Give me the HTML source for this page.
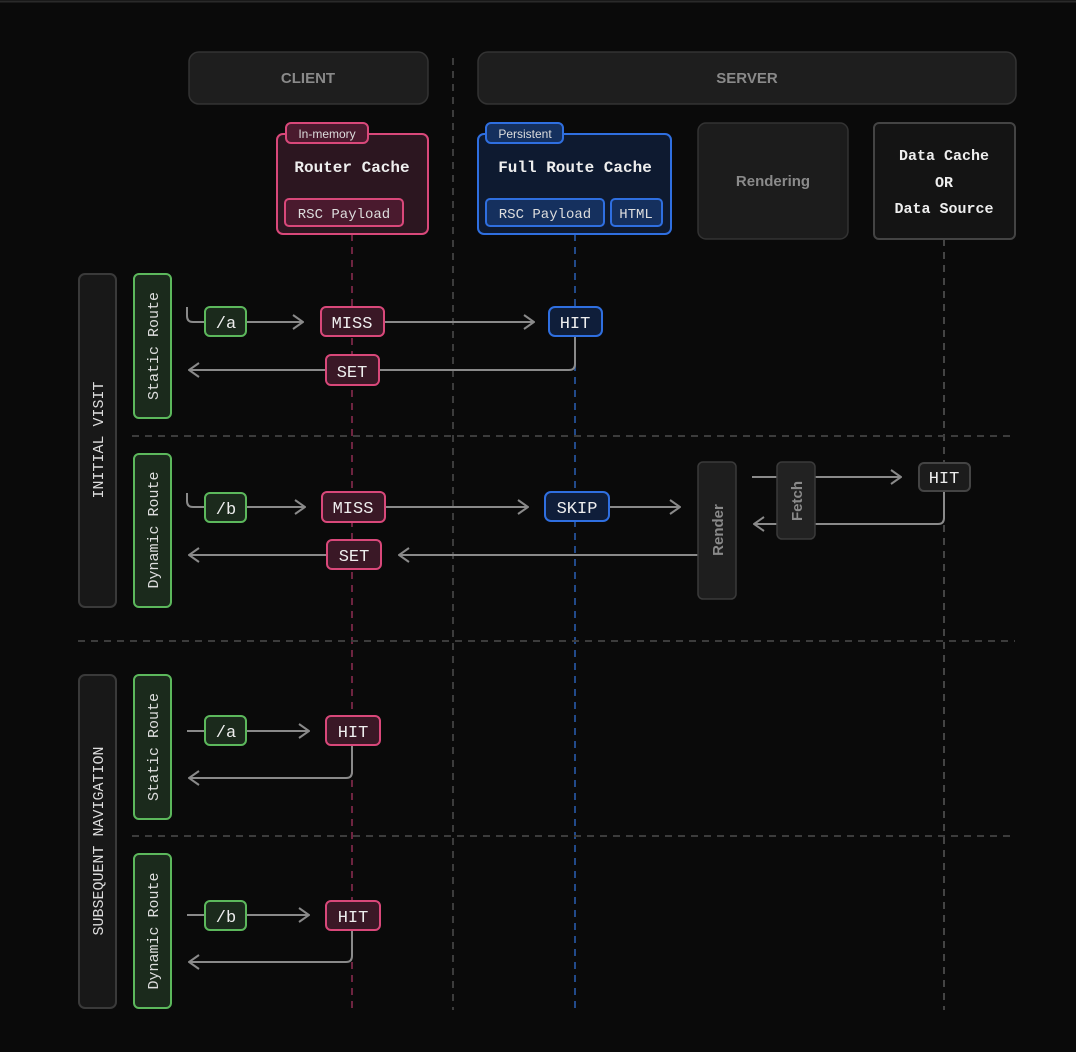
<!DOCTYPE html>
<html><head><meta charset="utf-8"><style>
html,body{margin:0;padding:0;background:#0a0a0a;}
svg{display:block}
.m{font-family:"Liberation Mono","DejaVu Sans Mono",monospace;font-weight:bold;}
.s{font-family:"Liberation Sans",sans-serif;font-weight:bold;}
</style></head><body>
<svg width="1076" height="1052" viewBox="0 0 1076 1052" xmlns="http://www.w3.org/2000/svg">
<defs>
<marker id="ah" viewBox="0 0 12 16" refX="11" refY="8" markerWidth="12" markerHeight="16" markerUnits="userSpaceOnUse" orient="auto">
<path d="M1 1 L11 8 L1 15" fill="none" stroke="#8a8a8a" stroke-width="2"/>
</marker>
</defs>
<rect width="1076" height="1052" fill="#0a0a0a"/>
<line x1="0" y1="1.5" x2="1076" y2="1.5" stroke="#2a2a2a" stroke-width="2"/>

<!-- dashed lines -->
<g stroke-dasharray="7 6" stroke-width="2">
<line x1="453" y1="58" x2="453" y2="1010" stroke="#3c3c3c"/>
<line x1="352" y1="234" x2="352" y2="1010" stroke="#6e2440"/>
<line x1="575" y1="234" x2="575" y2="1010" stroke="#224a8a"/>
<line x1="944" y1="239" x2="944" y2="1010" stroke="#444"/>
<line x1="132" y1="436" x2="1015" y2="436" stroke="#3c3c3c"/>
<line x1="78" y1="641" x2="1015" y2="641" stroke="#3c3c3c"/>
<line x1="132" y1="836" x2="1015" y2="836" stroke="#3c3c3c"/>
</g>

<!-- headers -->
<rect x="189" y="52" width="239" height="52" rx="10" fill="#1e1e1e" stroke="#333" stroke-width="1.5"/>
<text x="308" y="83" class="s" font-size="15" fill="#8a8a8a" text-anchor="middle">CLIENT</text>
<rect x="478" y="52" width="538" height="52" rx="10" fill="#1e1e1e" stroke="#333" stroke-width="1.5"/>
<text x="747" y="83" class="s" font-size="15" fill="#8a8a8a" text-anchor="middle">SERVER</text>

<!-- Router cache -->
<rect x="277" y="134" width="151" height="100" rx="6" fill="#2c1620" stroke="#d9487a" stroke-width="2"/>
<rect x="286" y="123" width="82" height="20" rx="5" fill="#4a1a2e" stroke="#d9487a" stroke-width="2"/>
<text x="327" y="138" font-family="Liberation Sans,sans-serif" font-size="12" fill="#ddd" text-anchor="middle">In-memory</text>
<text x="352" y="172" class="m" font-size="16" fill="#eee" text-anchor="middle">Router Cache</text>
<rect x="285" y="199" width="118" height="27" rx="4" fill="#4a1a2e" stroke="#d9487a" stroke-width="2"/>
<text x="344" y="218" class="m" font-size="14" font-weight="normal" fill="#ddd" text-anchor="middle" style="font-weight:normal">RSC Payload</text>

<!-- Full route cache -->
<rect x="478" y="134" width="193" height="100" rx="6" fill="#0e1a30" stroke="#2f6fe0" stroke-width="2"/>
<rect x="486" y="123" width="77" height="20" rx="5" fill="#15305e" stroke="#2f6fe0" stroke-width="2"/>
<text x="525" y="138" font-family="Liberation Sans,sans-serif" font-size="12" fill="#ddd" text-anchor="middle">Persistent</text>
<text x="575" y="172" class="m" font-size="16" fill="#eee" text-anchor="middle">Full Route Cache</text>
<rect x="486" y="199" width="118" height="27" rx="4" fill="#15305e" stroke="#2f6fe0" stroke-width="2"/>
<text x="545" y="218" class="m" font-size="14" fill="#ddd" text-anchor="middle" style="font-weight:normal">RSC Payload</text>
<rect x="611" y="199" width="51" height="27" rx="4" fill="#15305e" stroke="#2f6fe0" stroke-width="2"/>
<text x="636" y="218" class="m" font-size="14" fill="#ddd" text-anchor="middle" style="font-weight:normal">HTML</text>

<!-- Rendering -->
<rect x="698" y="123" width="150" height="116" rx="8" fill="#1c1c1c" stroke="#333" stroke-width="1.5"/>
<text x="773" y="186" class="s" font-size="15" fill="#8a8a8a" text-anchor="middle">Rendering</text>
<!-- Data cache -->
<rect x="874" y="123" width="141" height="116" rx="5" fill="#141414" stroke="#444" stroke-width="2"/>
<text x="944" y="160" class="m" font-size="15" fill="#eee" text-anchor="middle">Data Cache</text>
<text x="944" y="187" class="m" font-size="15" fill="#eee" text-anchor="middle">OR</text>
<text x="944" y="213" class="m" font-size="15" fill="#eee" text-anchor="middle">Data Source</text>

<!-- section labels -->
<rect x="79" y="274" width="37" height="333" rx="6" fill="#181818" stroke="#3a3a3a" stroke-width="2"/>
<text transform="translate(103,440) rotate(-90)" class="m" font-size="15" fill="#ddd" text-anchor="middle" style="font-weight:normal">INITIAL VISIT</text>
<rect x="79" y="675" width="37" height="333" rx="6" fill="#181818" stroke="#3a3a3a" stroke-width="2"/>
<text transform="translate(103,841) rotate(-90)" class="m" font-size="15" fill="#ddd" text-anchor="middle" style="font-weight:normal">SUBSEQUENT NAVIGATION</text>

<g fill="#1b2a1c" stroke="#5cb85c" stroke-width="2">
<rect x="134" y="274" width="37" height="144" rx="5"/>
<rect x="134" y="454" width="37" height="153" rx="5"/>
<rect x="134" y="675" width="37" height="144" rx="5"/>
<rect x="134" y="854" width="37" height="154" rx="5"/>
</g>
<g class="m" font-size="15" fill="#ddd" text-anchor="middle" style="font-weight:normal">
<text transform="translate(158,346) rotate(-90)">Static Route</text>
<text transform="translate(158,530) rotate(-90)">Dynamic Route</text>
<text transform="translate(158,747) rotate(-90)">Static Route</text>
<text transform="translate(158,931) rotate(-90)">Dynamic Route</text>
</g>

<!-- connectors -->
<g fill="none" stroke="#8a8a8a" stroke-width="2">
<path d="M187 307 V316 Q187 322 193 322 H205"/>
<line x1="246" y1="322" x2="303" y2="322" marker-end="url(#ah)"/>
<line x1="384" y1="322" x2="534" y2="322" marker-end="url(#ah)"/>
<path d="M575 336 V364 Q575 370 569 370 H189" marker-end="url(#ah)"/>

<path d="M187 493 V501 Q187 507 193 507 H205"/>
<line x1="246" y1="507" x2="305" y2="507" marker-end="url(#ah)"/>
<line x1="385" y1="507" x2="528" y2="507" marker-end="url(#ah)"/>
<line x1="609" y1="507" x2="680" y2="507" marker-end="url(#ah)"/>
<line x1="752" y1="477" x2="901" y2="477" marker-end="url(#ah)"/>
<path d="M944 491 V518 Q944 524 938 524 H754" marker-end="url(#ah)"/>
<line x1="698" y1="555" x2="399" y2="555" marker-end="url(#ah)"/>
<line x1="327" y1="555" x2="189" y2="555" marker-end="url(#ah)"/>

<line x1="187" y1="731" x2="309" y2="731" marker-end="url(#ah)"/>
<path d="M352 745 V772 Q352 778 346 778 H189" marker-end="url(#ah)"/>
<line x1="187" y1="915" x2="309" y2="915" marker-end="url(#ah)"/>
<path d="M352 930 V956 Q352 962 346 962 H189" marker-end="url(#ah)"/>
</g>

<!-- Render / Fetch -->
<rect x="698" y="462" width="38" height="137" rx="5" fill="#1e1e1e" stroke="#3a3a3a" stroke-width="1.5"/>
<text transform="translate(723,530) rotate(-90)" class="s" font-size="15" fill="#8a8a8a" text-anchor="middle">Render</text>
<rect x="777" y="462" width="38" height="77" rx="5" fill="#222" stroke="#3a3a3a" stroke-width="1.5"/>
<text transform="translate(802,501) rotate(-90)" class="s" font-size="15" fill="#8a8a8a" text-anchor="middle">Fetch</text>

<!-- nodes -->
<g stroke-width="2">
<rect x="205" y="307" width="41" height="29" rx="5" fill="#1b2a1c" stroke="#5cb85c"/>
<rect x="205" y="493" width="41" height="29" rx="5" fill="#1b2a1c" stroke="#5cb85c"/>
<rect x="205" y="716" width="41" height="29" rx="5" fill="#1b2a1c" stroke="#5cb85c"/>
<rect x="205" y="901" width="41" height="29" rx="5" fill="#1b2a1c" stroke="#5cb85c"/>
<rect x="321" y="307" width="63" height="29" rx="5" fill="#3a1826" stroke="#d9487a"/>
<rect x="326" y="355" width="53" height="30" rx="5" fill="#3a1826" stroke="#d9487a"/>
<rect x="322" y="492" width="63" height="30" rx="5" fill="#3a1826" stroke="#d9487a"/>
<rect x="327" y="540" width="54" height="29" rx="5" fill="#3a1826" stroke="#d9487a"/>
<rect x="326" y="716" width="54" height="29" rx="5" fill="#3a1826" stroke="#d9487a"/>
<rect x="326" y="901" width="54" height="29" rx="5" fill="#3a1826" stroke="#d9487a"/>
<rect x="549" y="307" width="53" height="29" rx="6" fill="#0f1e3a" stroke="#2f6fe0"/>
<rect x="545" y="492" width="64" height="29" rx="6" fill="#0f1e3a" stroke="#2f6fe0"/>
<rect x="919" y="463" width="51" height="28" rx="5" fill="#1c1c1c" stroke="#444"/>
</g>
<g class="m" font-size="17" fill="#eee" text-anchor="middle" style="font-weight:normal">
<text x="226" y="328">/a</text>
<text x="226" y="514">/b</text>
<text x="226" y="737">/a</text>
<text x="226" y="922">/b</text>
<text x="352" y="328">MISS</text>
<text x="352" y="377">SET</text>
<text x="353" y="513">MISS</text>
<text x="354" y="561">SET</text>
<text x="353" y="737">HIT</text>
<text x="353" y="922">HIT</text>
<text x="575" y="328">HIT</text>
<text x="577" y="513">SKIP</text>
<text x="944" y="483">HIT</text>
</g>
</svg>
</body></html>
